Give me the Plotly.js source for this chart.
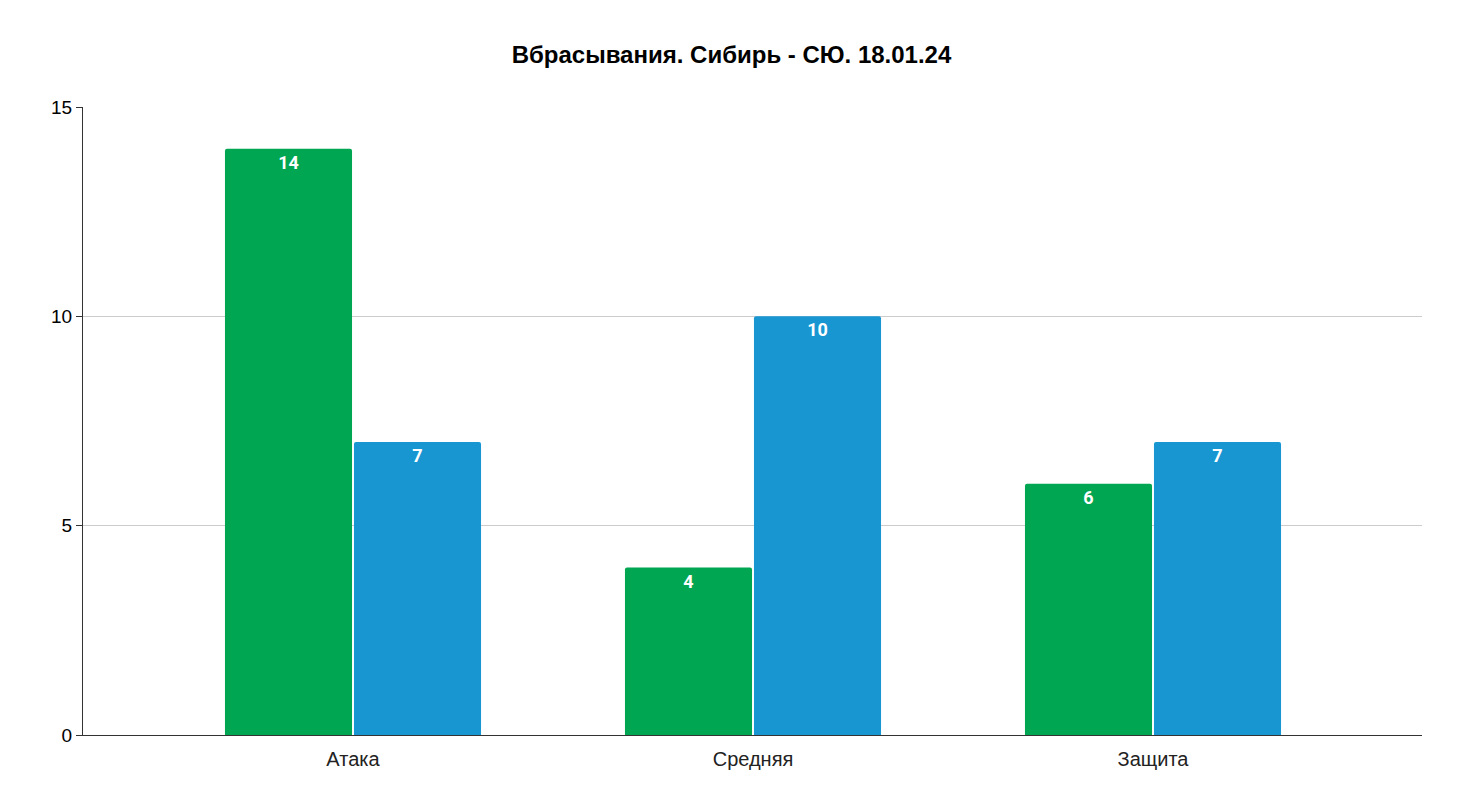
<!DOCTYPE html>
<html>
<head>
<meta charset="utf-8">
<script src="https://cdn.plot.ly/plotly-3.0.1.min.js"></script>
<style>html,body{margin:0;padding:0;background:#fff;}#chart{width:1463px;height:810px;}</style>
</head>
<body>
<div id="chart"></div>
<script>
const categories = ["Атака", "Средняя", "Защита"];
const siberia = [14, 4, 6];
const opponent = [7, 10, 7];
const titleText = "Вбрасывания. Сибирь - СЮ. 18.01.24";

const textFont = {family: "Roboto, 'Open Sans', sans-serif", size: 18, color: "#ffffff", weight: 700};

const traces = [
  {type: "bar", x: categories, y: siberia, name: "Сибирь", marker: {color: "#00a651", cornerradius: 2},
   text: siberia.map(String), textposition: "inside", insidetextanchor: "end", textfont: textFont, hoverinfo: "x+y"},
  {type: "bar", x: categories, y: opponent, name: "СЮ", marker: {color: "#1796d2", cornerradius: 2},
   text: opponent.map(String), textposition: "inside", insidetextanchor: "end", textfont: textFont, hoverinfo: "x+y"}
];

const layout = {
  width: 1463, height: 810,
  margin: {l: 83, r: 41, t: 107, b: 75},
  paper_bgcolor: "#ffffff", plot_bgcolor: "#ffffff",
  showlegend: false,
  barmode: "group", bargap: 0.355, bargroupgap: 0.015,
  title: {text: "<b>" + titleText + "</b>", x: 0.5, xref: "container", xanchor: "center",
          y: 1 - 55 / 810, yref: "container", yanchor: "middle",
          font: {family: "'Liberation Sans', Arial, sans-serif", size: 24, color: "#000"}},
  xaxis: {range: [-0.675, 2.6725], showgrid: false, showline: true, linecolor: "#333", linewidth: 1,
          ticks: "", ticklabelstandoff: 6,
          tickfont: {family: "'Liberation Sans', Arial, sans-serif", size: 20, color: "#222"}, fixedrange: true},
  yaxis: {range: [0, 15], tickvals: [0, 5, 10, 15], showgrid: true, gridcolor: "#cccccc", gridwidth: 1,
          showline: true, linecolor: "#333", linewidth: 1, ticks: "outside", ticklen: 6, tickcolor: "#333",
          zeroline: false,
          tickfont: {family: "'Liberation Sans', Arial, sans-serif", size: 19, color: "#000"}, fixedrange: true}
};

Plotly.newPlot("chart", traces, layout, {displayModeBar: false, staticPlot: true});
</script>
</body>
</html>
